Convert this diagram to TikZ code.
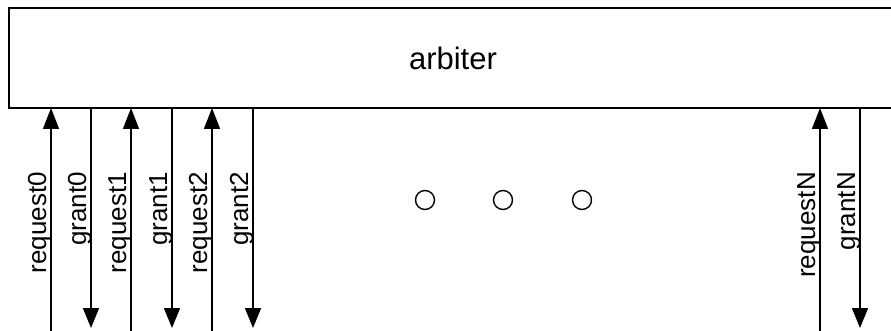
\documentclass[tikz,border=0pt]{standalone}
\usepackage{fontspec}
\setmainfont{Liberation Sans}
\usetikzlibrary{arrows.meta}
\begin{document}
\begin{tikzpicture}[x=1pt,y=-1pt,
  sig/.style={line width=1.6pt},
  reqarrow/.style={sig,-{Triangle[length=21pt,width=16pt]}},
  grantarrow/.style={sig,-{Triangle[length=20pt,width=16pt]}},
  lbl/.style={rotate=90,anchor=base east,inner sep=0pt,font=\fontsize{26}{30}\selectfont},
  dot/.style={circle,draw,line width=1.4pt,minimum size=19pt,inner sep=0pt}]
\useasboundingbox (0,0) rectangle (891,331);
\begin{scope}
\clip (0,0) rectangle (891,331);
\draw[line width=1.2pt] (9,8) rectangle (905,108);
\end{scope}
\node[font=\fontsize{31}{36}\selectfont] (arb) at (453,58) {arbiter};
\foreach \n/\xr/\xg in {0/51/91, 1/131/172, 2/212/253, N/820/860} {
  \coordinate (rb\n) at (\xr,331);
  \coordinate (rt\n) at (\xr,108);
  \coordinate (gt\n) at (\xg,108);
  \coordinate (gb\n) at (\xg,328);
  \draw[reqarrow] (rb\n) -- (rt\n);
  \draw[grantarrow] (gt\n) -- (gb\n);
  \node[lbl] (lr\n) at (\xr-5,172) {request\n};
  \node[lbl] (lg\n) at (\xg-5,172) {grant\n};
}
\node[dot] (d1) at (425,200) {};
\node[dot] (d2) at (503,200) {};
\node[dot] (d3) at (582,200) {};
\end{tikzpicture}
\end{document}
